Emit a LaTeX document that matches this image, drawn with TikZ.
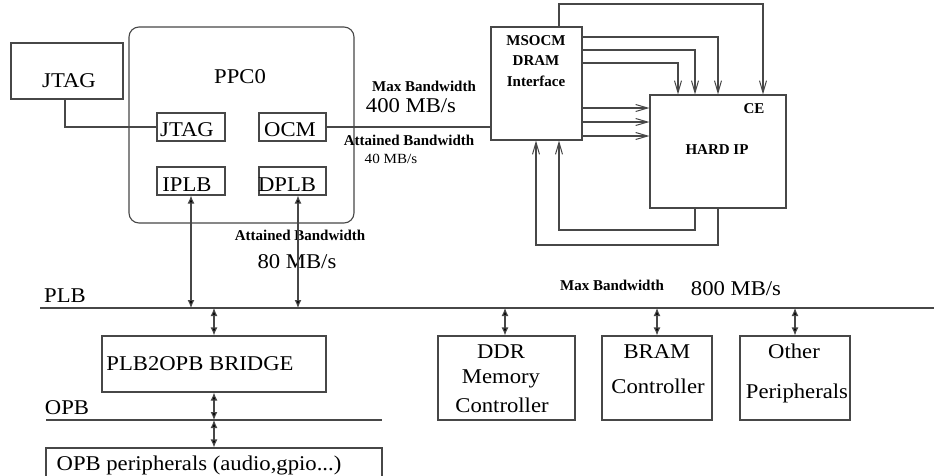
\documentclass[tikz,border=0pt]{standalone}
\usepackage{fontspec}
\setmainfont{Liberation Serif}[FakeStretch=1.08]
\newfontfamily\bfam{Liberation Serif}
\usetikzlibrary{arrows.meta}
\tikzset{
  ln/.style={draw=black!72, line width=1.1pt},
  box/.style={ln, rectangle, inner sep=0pt},
  lbl/.style={font=\fontsize{21}{25}\selectfont, inner sep=0pt, anchor=base},
  blbl/.style={font=\bfam\bfseries\fontsize{15}{18}\selectfont, inner sep=0pt, anchor=base},
  sml/.style={font=\fontsize{14}{17}\selectfont, inner sep=0pt, anchor=base},
  barb/.style={ln, -{Straight Barb[length=12pt,width=7pt,line width=1pt]}},
  dbl/.style={ln, {Latex[length=8pt,width=7pt,fill=black]}-{Latex[length=8pt,width=7pt,fill=black]}},
}
\begin{document}
\begin{tikzpicture}[x=1pt,y=-1pt]
\useasboundingbox (0,0) rectangle (934,475);
% ---------- boxes ----------
\node[box, minimum width=112pt, minimum height=56pt] (oj) at (67,71) {};
\node[box, rounded corners=10pt, minimum width=225pt, minimum height=196pt] (ppc) at (241.5,125) {};
\node[box, minimum width=68pt, minimum height=28pt] (ij) at (191,127) {};
\node[box, minimum width=67pt, minimum height=28pt] (ocm) at (292.5,127) {};
\node[box, minimum width=68pt, minimum height=28pt] (ip) at (191,181) {};
\node[box, minimum width=67pt, minimum height=28pt] (dp) at (292.5,181) {};
\node[box, minimum width=91pt, minimum height=113pt] (ms) at (536.5,83.5) {};
\node[box, minimum width=136pt, minimum height=113pt] (hip) at (718,151.5) {};
\node[box, minimum width=224pt, minimum height=56pt] (br) at (214,364) {};
\node[box, minimum width=137pt, minimum height=84pt] (ddr) at (506.5,378) {};
\node[box, minimum width=110pt, minimum height=84pt] (bram) at (657,378) {};
\node[box, minimum width=110pt, minimum height=84pt] (oth) at (795,378) {};
\begin{scope}
\clip (0,0) rectangle (934,475);
\node[box, minimum width=336pt, minimum height=50pt] (opbp) at (214,473) {};
\end{scope}
% ---------- texts ----------
\node[lbl] (toj) at (69,87) {JTAG};
\node[lbl] (tppc) at (240,83) {PPC0};
\node[lbl] (tij) at (187,136) {JTAG};
\node[lbl] (tocm) at (290,136) {OCM};
\node[lbl] (tip) at (187,191) {IPLB};
\node[lbl] (tdp) at (287,191) {DPLB};
\node[blbl] (tms1) at (536,45) {MSOCM};
\node[blbl] (tms2) at (536,65) {DRAM};
\node[blbl] (tms3) at (536,86) {Interface};
\node[blbl] (tce) at (754,113) {CE};
\node[blbl] (thip) at (717,154) {HARD IP};
\node[blbl] (tmax1) at (424,91) {Max Bandwidth};
\node[lbl] (t400) at (411,112) {400 MB/s};
\node[blbl] (tatt1) at (409,145) {Attained Bandwidth};
\node[sml] (t40) at (391,163) {40 MB/s};
\node[blbl] (tatt2) at (300,240) {Attained Bandwidth};
\node[lbl] (t80) at (297,268) {80 MB/s};
\node[lbl] (tplb) at (65,302) {PLB};
\node[blbl] (tmax2) at (612,290) {Max Bandwidth};
\node[lbl] (t800) at (736,295) {800 MB/s};
\node[lbl] (tbr) at (200,370) {PLB2OPB BRIDGE};
\node[lbl] (topb) at (67,414) {OPB};
\node[lbl] (topbp) at (199,470) {OPB peripherals (audio,gpio...)};
\node[lbl] (td1) at (501,358) {DDR};
\node[lbl] (td2) at (501,383) {Memory};
\node[lbl] (td3) at (502,412) {Controller};
\node[lbl] (tb1) at (657,358) {BRAM};
\node[lbl] (tb2) at (658,393) {Controller};
\node[lbl] (to1) at (794,358) {Other};
\node[lbl] (to2) at (797,398) {Peripherals};
% ---------- coordinates ----------
\coordinate (j1) at (65,127);
\coordinate (ta) at (559,4);
\coordinate (tb) at (763,4);
\coordinate (r1) at (718,37);
\coordinate (r2) at (695,50);
\coordinate (r3) at (678,63);
\coordinate (h1) at (620,108);
\coordinate (h2) at (620,122);
\coordinate (h3) at (620,136);
\coordinate (b1) at (695,230);
\coordinate (b2) at (559,230);
\coordinate (c1) at (718,245);
\coordinate (c2) at (536,245);
\coordinate (plbL) at (40,308);
\coordinate (plbR) at (934,308);
\coordinate (opbL) at (46,420);
\coordinate (opbR) at (382,420);
\coordinate (dpx) at (298,308);
\coordinate (ddx) at (505,308);
% ---------- connectors ----------
\draw[ln] (oj.south -| j1) |- (ij.west);
\draw[ln] (ocm.east) -- (ms.west |- ocm.east);
\draw[barb] (ms.north -| ta) -- (ta) -- (tb) -- (hip.north -| tb);
\draw[barb] (ms.east |- r1) -| (hip.north -| r1);
\draw[barb] (ms.east |- r2) -| (hip.north -| r2);
\draw[barb] (ms.east |- r3) -| (hip.north -| r3);
\draw[barb] (ms.east |- h1) -- (hip.west |- h1);
\draw[barb] (ms.east |- h2) -- (hip.west |- h2);
\draw[barb] (ms.east |- h3) -- (hip.west |- h3);
\draw[barb] (hip.south -| b1) -- (b1) -- (b2) -- (ms.south -| b2);
\draw[barb] (hip.south -| c1) -- (c1) -- (c2) -- (ms.south -| c2);
\draw[ln] (plbL) -- (plbR);
\draw[ln] (opbL) -- (opbR);
\draw[dbl] (ip.south) -- (ip.south |- plbL);
\draw[dbl] (dp.south -| dpx) -- (dpx);
\draw[dbl] (br.north |- plbL) -- (br.north);
\draw[dbl] (br.south) -- (br.south |- opbL);
\draw[dbl] (br.south |- opbL) -- (opbp.north);
\draw[dbl] (ddx) -- (ddr.north -| ddx);
\draw[dbl] (bram.north |- plbL) -- (bram.north);
\draw[dbl] (oth.north |- plbL) -- (oth.north);
\end{tikzpicture}
\end{document}
